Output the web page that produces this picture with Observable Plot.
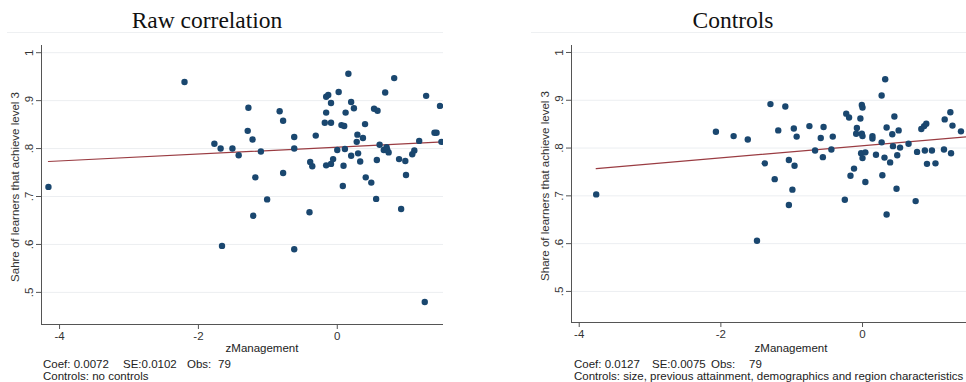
<!DOCTYPE html>
<html><head><meta charset="utf-8">
<script src="https://cdn.jsdelivr.net/npm/d3@7"></script>
<script src="https://cdn.jsdelivr.net/npm/@observablehq/plot@0.6"></script>
<style>
body{margin:0;background:#fff;overflow:hidden;}
#wrap{position:relative;width:966px;height:382px;overflow:hidden;font-family:"Liberation Sans",Arial,sans-serif;}
.panel{position:absolute;top:0;height:382px;width:483px;}
.panel svg{position:absolute;left:0;top:0;}
.title{position:absolute;top:20px;font-family:"Liberation Serif","Times New Roman",serif;font-size:23.5px;color:#111;transform:translate(-50%,-50%);white-space:nowrap;}
.sep{position:absolute;top:32px;height:0;border-top:1px solid #eef0f2;}
.xlab{position:absolute;top:348px;font-size:11.5px;color:#222;transform:translate(-50%,-50%);white-space:nowrap;}
.note{position:absolute;font-size:11.5px;color:#222;white-space:pre;transform:translateY(-50%);}
</style>
</head><body>
<div id="wrap">
  <div class="panel" id="pL" style="left:0px">
    <div class="sep" style="left:7px;width:436px"></div>
    <div class="title" style="left:207px">Raw correlation</div>
    <div class="xlab" style="left:262px">zManagement</div>
    <div class="note" style="left:43px;top:364px">Coef: 0.0072</div>
    <div class="note" style="left:123px;top:364px">SE:0.0102</div>
    <div class="note" style="left:187px;top:364px">Obs:</div>
    <div class="note" style="left:218px;top:364px">79</div>
    <div class="note" style="left:43px;top:376px">Controls: no controls</div>
  </div>
  <div class="panel" id="pR" style="left:483px">
    <div class="sep" style="left:48px;width:435px"></div>
    <div class="title" style="left:250px">Controls</div>
    <div class="xlab" style="left:308px">zManagement</div>
    <div class="note" style="left:91px;top:364px">Coef: 0.0127</div>
    <div class="note" style="left:169px;top:364px">SE:0.0075</div>
    <div class="note" style="left:228px;top:364px">Obs:</div>
    <div class="note" style="left:266px;top:364px">79</div>
    <div class="note" style="left:91px;top:376px">Controls: size, previous attainment, demographics and region characteristics</div>
  </div>
</div>
<script>
// ---- data ----
const yTicks = [0.5, 0.6, 0.7, 0.8, 0.9, 1];
const yTickLabels = [".5", ".6", ".7", ".8", ".9", "1"];
const xTicks = [-4, -2, 0];
const xTickLabels = ["-4", "-2", "0"];

const leftX = [-4.16,-2.20,-1.77,-1.68,-1.51,-1.42,-1.29,-1.28,-1.22,-1.18,-1.10,-0.83,-0.78,-0.78,-0.62,-0.62,-0.31,-0.39,-0.36,-0.16,-0.13,-0.16,-0.09,-0.18,-0.09,-0.16,-0.09,-0.06,0.00,0.02,0.16,0.06,0.10,0.12,0.11,0.09,0.08,0.20,0.24,0.20,0.29,0.28,0.30,0.33,0.37,0.40,0.41,0.49,0.53,0.58,0.57,0.56,0.61,0.69,0.67,0.71,0.72,0.74,0.82,0.89,0.98,0.99,0.92,1.08,1.11,1.18,1.28,1.26,1.40,1.43,1.48,1.50,-1.66,-1.21,-1.01,-0.62,-0.40];
const leftY = [0.720,0.939,0.810,0.800,0.800,0.786,0.837,0.885,0.819,0.740,0.794,0.878,0.858,0.749,0.824,0.800,0.827,0.772,0.763,0.908,0.912,0.875,0.895,0.854,0.854,0.765,0.768,0.778,0.797,0.918,0.956,0.849,0.847,0.875,0.799,0.764,0.722,0.897,0.884,0.785,0.829,0.814,0.790,0.773,0.822,0.851,0.740,0.729,0.883,0.879,0.776,0.695,0.808,0.917,0.797,0.803,0.797,0.792,0.947,0.778,0.774,0.745,0.674,0.788,0.796,0.816,0.910,0.480,0.833,0.833,0.889,0.814,0.597,0.660,0.694,0.590,0.667];

const rightX = [-3.76,-2.07,-1.82,-1.62,-1.38,-1.30,-1.19,-1.24,-1.09,-1.04,-0.96,-0.97,-0.93,-0.99,-1.04,-1.49,-0.75,-0.67,-0.59,-0.55,-0.56,-0.42,-0.44,-0.25,-0.23,-0.19,-0.03,-0.01,0.00,-0.08,-0.09,-0.01,0.00,-0.02,0.04,0.00,-0.12,-0.17,0.04,0.14,0.14,0.19,0.27,0.32,0.27,0.34,0.31,0.28,0.39,0.42,0.45,0.43,0.51,0.49,0.53,0.48,0.34,0.65,0.77,0.75,0.83,0.87,0.90,0.88,0.98,1.03,0.91,1.16,1.24,1.27,1.15,1.25,1.39];
const rightY = [0.703,0.834,0.825,0.818,0.768,0.892,0.837,0.735,0.887,0.775,0.763,0.841,0.824,0.713,0.681,0.606,0.846,0.795,0.821,0.844,0.781,0.824,0.797,0.692,0.872,0.864,0.862,0.890,0.885,0.842,0.830,0.830,0.825,0.789,0.791,0.779,0.757,0.742,0.729,0.825,0.820,0.786,0.910,0.944,0.812,0.843,0.780,0.743,0.770,0.829,0.866,0.804,0.837,0.785,0.801,0.715,0.661,0.809,0.792,0.689,0.840,0.846,0.851,0.795,0.795,0.768,0.767,0.860,0.875,0.847,0.797,0.789,0.835];

// fitted-line endpoints
const leftFitX = [-4.16, 1.60];
const leftFitY = [0.773, 0.8145];
const rightFitX = [-3.76, 1.50];
const rightFitY = [0.757, 0.824];

const dotColor = "#1a476f";
const lineColor = "#9a3c42";

function makePanel(cfg) {
  const pts = cfg.xs.map((x, i) => ({x, y: cfg.ys[i]}));
  const fit = cfg.fx.map((x, i) => ({x, y: cfg.fy[i]}));
  const ticks = yTicks.map((v, i) => ({v, t: yTickLabels[i]}));
  return Plot.plot({
    width: 483, height: 382,
    marginTop: cfg.top, marginBottom: 382 - cfg.bottom,
    marginLeft: cfg.left, marginRight: 483 - cfg.right,
    x: {domain: cfg.xDomain},
    y: {domain: cfg.yDomain},
    style: {fontFamily: "Liberation Sans, Arial, sans-serif", fontSize: "11.5px", color: "#333", background: "transparent", overflow: "visible"},
    marks: [
      Plot.ruleY(yTicks, {stroke: "#eceef1", strokeWidth: 1}),
      Plot.line(fit, {x: "x", y: "y", stroke: lineColor, strokeWidth: 1.2, clip: true}),
      Plot.dot(pts, {x: "x", y: "y", r: 3.2, fill: dotColor, stroke: "none", clip: true}),
      Plot.ruleX([cfg.xDomain[0]], {stroke: "#555", strokeWidth: 1}),
      Plot.ruleY([cfg.yDomain[0]], {stroke: "#555", strokeWidth: 1}),
      Plot.axisX({ticks: xTicks, tickSize: 5, tickPadding: 2, label: null, stroke: "#555",
        tickFormat: d => xTickLabels[xTicks.indexOf(d)]}),
      Plot.axisY({ticks: yTicks, tickSize: 5, label: null, stroke: "#555", tickFormat: () => ""}),
      Plot.text(ticks, {y: "v", text: "t", frameAnchor: "left", dx: -12, rotate: -90,
        textAnchor: "middle", lineAnchor: "middle", fill: "#333"}),
      Plot.text([cfg.ylabel], {text: d => d, frameAnchor: "left", dx: -26, dy: 2, rotate: -90,
        textAnchor: "middle", lineAnchor: "middle", fill: "#333"})
    ]
  });
}

document.getElementById("pL").appendChild(makePanel({
  xs: leftX, ys: leftY, fx: leftFitX, fy: leftFitY,
  top: 45, bottom: 324, left: 41, right: 443,
  xDomain: [-4.26, 1.53], yDomain: [0.433, 1.015],
  ylabel: "Sahre of learners that achieve level 3"
}));
document.getElementById("pR").appendChild(makePanel({
  xs: rightX, ys: rightY, fx: rightFitX, fy: rightFitY,
  top: 45, bottom: 322, left: 88, right: 483,
  xDomain: [-4.109, 1.468], yDomain: [0.435, 1.0146],
  ylabel: "Share of learners that achieve level 3"
}));
</script>
</body></html>
